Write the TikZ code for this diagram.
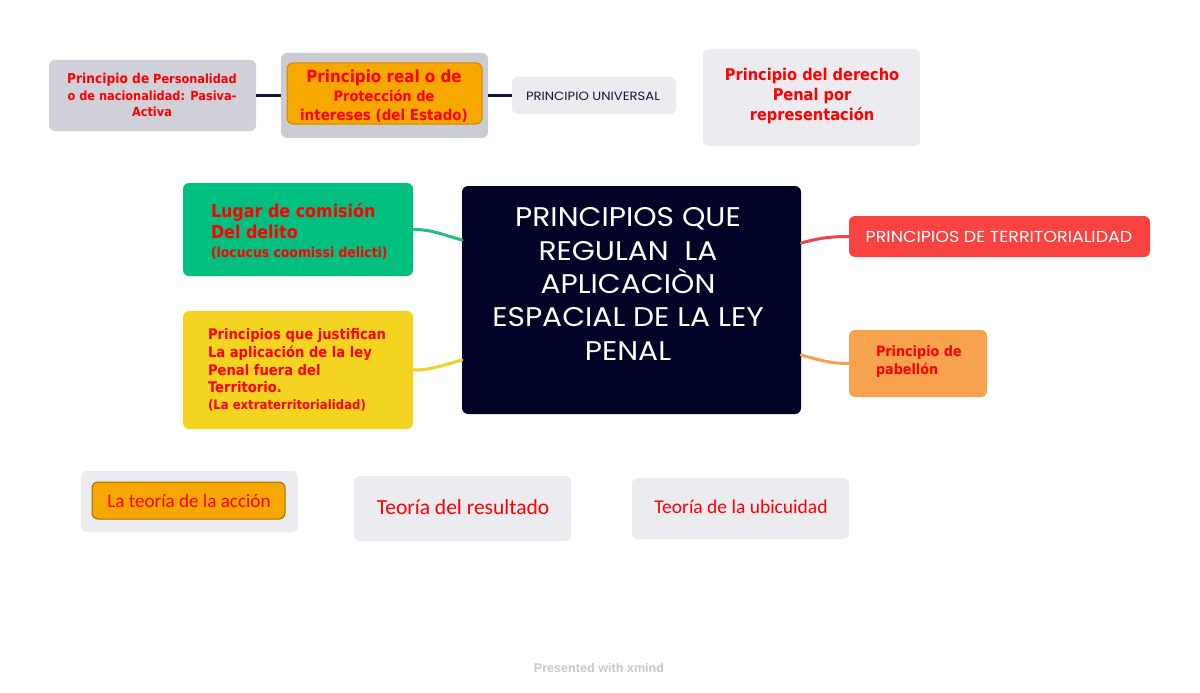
\documentclass[tikz,border=0pt]{standalone}
\usepackage{fontspec}
\setmainfont{DejaVu Sans}
\newfontfamily\vbfont[FakeStretch=0.9]{DejaVu Sans}
\newfontfamily\popfont[FakeStretch=1.1]{Poppins}
\newfontfamily\carfont{Carlito}
\newfontfamily\libfont{Liberation Sans}
\definecolor{txtred}{HTML}{FF0000}
\definecolor{navy}{HTML}{14163A}
\definecolor{cpers}{HTML}{CFD0D8}
\definecolor{creal}{HTML}{CBCCD3}
\definecolor{corange}{HTML}{F6A800}
\definecolor{corangeb}{HTML}{C98A00}
\definecolor{clight}{HTML}{ECEBEF}
\definecolor{ccentral}{HTML}{020427}
\definecolor{cgreen}{HTML}{00BF7F}
\definecolor{cyellow}{HTML}{F2D421}
\definecolor{cred}{HTML}{FA4341}
\definecolor{cpab}{HTML}{F7A24F}
\definecolor{cfoot}{HTML}{C9C9C9}
\definecolor{lgreen}{HTML}{22BE7A}
\definecolor{lyellow}{HTML}{F0D22A}
\definecolor{lred}{HTML}{F04444}
\definecolor{lorange}{HTML}{F5A050}
\begin{document}
\begin{tikzpicture}[x=1pt,y=-1pt,
  box/.style={rectangle, rounded corners=6pt, draw=none, inner sep=0pt, outer sep=0pt, anchor=north west},
  txt/.style={inner sep=0pt, outer sep=0pt, align=center},
  ltxt/.style={inner sep=0pt, outer sep=0pt, align=left, anchor=west},
  bold/.style={text=txtred},
  link/.style={line width=2.5pt, draw=navy},
  curve/.style={line width=3pt, line cap=round}]
\fill[white] (0,0) rectangle (1200,693);
\useasboundingbox (0,0) rectangle (1200,693);
\newcommand{\bx}[6]{\node[box, fill=#6, minimum width={#4-#2}, minimum height={#5-#3}] (#1) at (#2,#3) {};}
% top row
\bx{pers}{49}{60}{256}{131}{cpers}
\bx{realo}{281}{53}{488}{138}{creal}
\node[box, fill=corange, draw=corangeb, line width=1pt, minimum width=195, minimum height=61] (reali) at (287,63) {};
\bx{univ}{512}{77}{676}{114}{clight}
\bx{der}{703}{49}{920}{146}{clight}
\draw[link] (pers.east) -- (realo.west);
\draw[link] (realo.east) -- (univ.west);
\node[txt, bold, font=\vbfont\bfseries\fontsize{12.6}{16.5}\selectfont] (perst) at (152,95) {{\fontsize{13.6}{16.5}\selectfont Principio de} Personalidad\\o de nacionalidad: Pasiva-\\Activa};
\node[txt, bold, font=\vbfont\bfseries\fontsize{15}{19}\selectfont] (realt) at (384,96) {{\fontsize{16.8}{19}\selectfont Principio real o de}\\{\fontsize{14.5}{19}\selectfont Protección de}\\{\fontsize{15}{19}\selectfont intereses (del Estado)}};
\node[txt, text=navy, font=\popfont\fontsize{12}{14}\selectfont] (univt) at (593,96) {PRINCIPIO UNIVERSAL};
\node[txt, bold, font=\vbfont\bfseries\fontsize{16.2}{20}\selectfont] (dert) at (812,96) {Principio del derecho\\Penal por\\representación};
% central
\bx{central}{462}{186}{801}{414}{ccentral}
\node[txt, text=white, font=\popfont\fontsize{27}{33.3}\selectfont] (centralt) at (628,284) {PRINCIPIOS QUE\\REGULAN\ \ LA\\APLICACIÒN\\ESPACIAL DE LA LEY\\PENAL};
% left
\bx{lugar}{183}{183}{413}{276}{cgreen}
\bx{just}{183}{311}{413}{429}{cyellow}
\node[ltxt, bold, font=\vbfont\bfseries\fontsize{17.7}{21}\selectfont] (lugart) at (211,231) {Lugar de comisión\\Del delito\\[-2pt]{\fontsize{13.8}{15}\selectfont (locucus coomissi delicti)}};
\node[ltxt, bold, font=\vbfont\bfseries\fontsize{14.6}{17.7}\selectfont] (justt) at (208,370) {Principios que justifican\\La aplicación de la ley\\Penal fuera del\\Territorio.\\[-1pt]{\fontsize{13}{15}\selectfont (La extraterritorialidad)}};
% right
\bx{terr}{849}{216}{1150}{257}{cred}
\bx{pab}{849}{330}{987}{397}{cpab}
\node[txt, text=white, font=\popfont\fontsize{15.9}{18}\selectfont] (terrt) at (999,237) {PRINCIPIOS DE TERRITORIALIDAD};
\node[ltxt, bold, font=\vbfont\bfseries\fontsize{14.2}{18}\selectfont] (pabt) at (876,362) {Principio de\\pabellón};
% connectors
\draw[curve, lgreen] (lugar.east) to[out=0, in=165] ([yshift=-54pt]central.north west);
\draw[curve, lyellow] (just.east) to[out=0, in=195] ([yshift=-174pt]central.north west);
\draw[curve, lred] ([yshift=-57pt]central.north east) to[out=15, in=180] (terr.west);
\draw[curve, lorange] ([yshift=-169pt]central.north east) to[out=-15, in=180] (pab.west);
% bottom
\bx{accion}{81}{471}{298}{532}{clight}
\node[box, fill=corange, draw=corangeb!80!black, line width=1pt, minimum width=193, minimum height=37] (accioni) at (92,482) {};
\bx{result}{354}{476}{571}{541}{clight}
\bx{ubic}{632}{478}{849}{539}{clight}
\node[txt, text=txtred, font=\carfont\fontsize{19.1}{22}\selectfont] (acciont) at (189,501) {La teoría de la acción};
\node[txt, text=txtred, font=\carfont\fontsize{21.5}{24}\selectfont] (resultt) at (463,507) {Teoría del resultado};
\node[txt, text=txtred, font=\carfont\fontsize{19.5}{22}\selectfont] (ubict) at (741,507) {Teoría de la ubicuidad};
% footer
\node[txt, text=cfoot, font=\libfont\bfseries\fontsize{12.6}{14}\selectfont] (foot) at (599,668) {Presented with xmind};
\end{tikzpicture}
\end{document}
